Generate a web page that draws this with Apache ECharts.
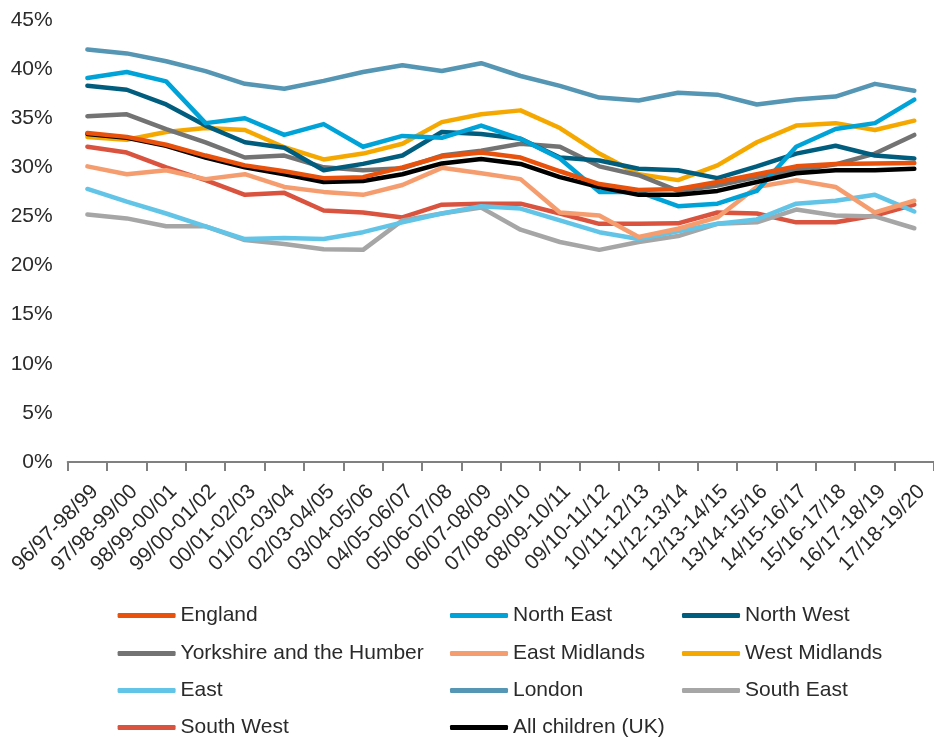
<!DOCTYPE html>
<html><head><meta charset="utf-8">
<script src="https://cdn.jsdelivr.net/npm/echarts@6/dist/echarts.min.js"></script>
<style>html,body{margin:0;padding:0;background:#fff}#c{width:934px;height:740px}</style>
</head><body><div id="c"></div>
<script>
var categories = ["96/97-98/99","97/98-99/00","98/99-00/01","99/00-01/02","00/01-02/03","01/02-03/04","02/03-04/05","03/04-05/06","04/05-06/07","05/06-07/08","06/07-08/09","07/08-09/10","08/09-10/11","09/10-11/12","10/11-12/13","11/12-13/14","12/13-14/15","13/14-15/16","14/15-16/17","15/16-17/18","16/17-18/19","17/18-19/20"];
var england = [33.5,33.1,32.3,31.2,30.2,29.6,28.9,29.0,30.0,31.1,31.5,31.0,29.6,28.3,27.7,27.8,28.5,29.3,30.1,30.35,30.4,30.45];
var northEast = [39.1,39.7,38.75,34.5,35.0,33.3,34.4,32.1,33.2,33.0,34.25,32.9,30.9,27.5,27.5,26.05,26.3,27.6,32.1,33.9,34.5,36.9];
var northWest = [38.3,37.9,36.4,34.25,32.55,32.0,29.7,30.35,31.2,33.6,33.4,32.9,31.0,30.7,29.85,29.7,28.9,30.1,31.4,32.2,31.2,30.9];
var yorkshire = [35.2,35.4,33.9,32.55,31.0,31.2,30.0,29.7,29.9,31.2,31.7,32.4,32.1,30.1,29.2,27.6,28.15,29.0,29.7,30.3,31.4,33.3];
var eastMidlands = [30.1,29.3,29.7,28.8,29.3,28.0,27.5,27.2,28.2,29.95,29.4,28.8,25.4,25.1,22.9,23.75,24.9,28.0,28.7,28.0,25.4,26.6];
var westMidlands = [33.1,32.8,33.6,34.0,33.8,32.05,30.8,31.4,32.4,34.6,35.4,35.8,34.0,31.4,29.3,28.7,30.2,32.55,34.25,34.5,33.8,34.75];
var east = [27.8,26.5,25.3,24.0,22.7,22.8,22.7,23.4,24.4,25.3,26.05,25.8,24.6,23.4,22.7,23.5,24.25,24.7,26.3,26.6,27.2,25.5];
var london = [42.0,41.6,40.8,39.8,38.5,38.0,38.8,39.7,40.4,39.8,40.6,39.3,38.3,37.1,36.8,37.6,37.4,36.4,36.9,37.2,38.5,37.8];
var southEast = [25.2,24.8,24.0,24.0,22.6,22.2,21.65,21.6,24.6,25.3,25.9,23.65,22.4,21.6,22.4,23.0,24.25,24.4,25.7,25.1,25.0,23.8];
var southWest = [32.1,31.5,30.0,28.7,27.2,27.4,25.6,25.4,24.9,26.2,26.3,26.3,25.3,24.25,24.25,24.3,25.4,25.3,24.4,24.4,25.1,26.2];
var allChildren = [33.4,33.0,32.2,31.0,30.0,29.3,28.5,28.6,29.3,30.4,30.85,30.35,29.0,28.0,27.2,27.2,27.6,28.5,29.4,29.7,29.7,29.85];
var yTicks = [0,5,10,15,20,25,30,35,40,45];

var defs = [
  ["South West", southWest, "#d9533f"],
  ["South East", southEast, "#a6a6a6"],
  ["London", london, "#5496b3"],
  ["East", east, "#62c5e7"],
  ["West Midlands", westMidlands, "#f5a800"],
  ["East Midlands", eastMidlands, "#f59d6e"],
  ["Yorkshire and the Humber", yorkshire, "#737373"],
  ["North West", northWest, "#005d7e"],
  ["North East", northEast, "#00a3d7"],
  ["All children (UK)", allChildren, "#000000"],
  ["England", england, "#e8520c"]
];
var series = defs.map(function(d){
  return {name:d[0], type:'line', data:d[1], symbol:'none', smooth:false,
    lineStyle:{width:4.5, color:d[2], cap:'round', join:'round'}, itemStyle:{color:d[2]}};
});
var font = "'Liberation Sans', Arial, sans-serif";
var legendLayout = [
  ["England",117.6,605],["Yorkshire and the Humber",117.6,643],["East",117.6,680],["South West",117.6,717],
  ["North East",450,605],["East Midlands",450,643],["London",450,680],["All children (UK)",450,717],
  ["North West",682,605],["West Midlands",682,643],["South East",682,680]
];
var legends = legendLayout.map(function(l){
  return {orient:'horizontal', left:l[1], top:l[2], padding:0, itemWidth:58, itemHeight:5,
    icon:'roundRect', data:[l[0]], selectedMode:false,
    textStyle:{fontFamily:font, fontSize:21, color:'#2a2a2a', lineHeight:21}};
});
var chart = echarts.init(document.getElementById('c'), null, {renderer:'canvas'});
chart.setOption({
  animation:false,
  grid:{left:67.7, right:-11.5, top:20, bottom:278, containLabel:false},
  xAxis:{type:'category', data:categories, boundaryGap:true,
    axisLine:{lineStyle:{color:'#808080', width:2}},
    axisTick:{show:true, length:9, lineStyle:{color:'#808080', width:2}},
    axisLabel:{rotate:45, interval:0, margin:19, verticalAlign:'top', fontFamily:font, fontSize:21, color:'#2a2a2a'},
    splitLine:{show:false}},
  yAxis:{type:'value', min:0, max:45, interval:5,
    axisLine:{show:false}, axisTick:{show:false}, splitLine:{show:false},
    axisLabel:{formatter:'{value}%', margin:15, fontFamily:font, fontSize:21, color:'#2a2a2a'}},
  legend:legends,
  series:series
});
</script></body></html>
